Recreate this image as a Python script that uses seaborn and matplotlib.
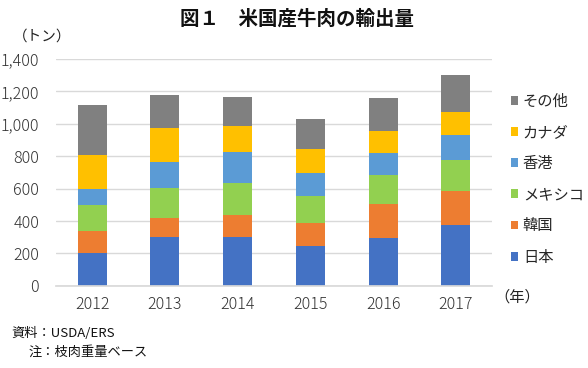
import numpy as np
import pandas as pd
import matplotlib
matplotlib.use("Agg")
import matplotlib.pyplot as plt
import seaborn as sns
from matplotlib.patches import Patch

years = ["2012", "2013", "2014", "2015", "2016", "2017"]
japan = [202, 304, 303, 247, 296, 377]
korea = [138, 116, 135, 142, 210, 209]
mexico = [160, 185, 198, 167, 179, 192]
hongkong = [99, 160, 191, 140, 134, 152]
canada = [210, 210, 161, 150, 138, 144]
other = [308, 204, 179, 185, 203, 228]

series_names = ["日本", "韓国", "メキシコ", "香港", "カナダ", "その他"]
series_vals = [japan, korea, mexico, hongkong, canada, other]
colors = ["#4472C4", "#ED7D31", "#92D050", "#5B9BD5", "#FFC000", "#808080"]

sns.set_theme(style="white")
plt.rcParams["font.family"] = ["Noto Sans CJK JP", "DejaVu Sans"]

fig = plt.figure(figsize=(5.88, 3.68), dpi=100)
ax = fig.add_axes([0.095, 0.223, 0.742, 0.617])

cum = np.cumsum(np.array(series_vals), axis=0)
# draw from the tallest cumulative downward so lower segments overlay
for i in range(len(series_names) - 1, -1, -1):
    df = pd.DataFrame({"year": years, "value": cum[i]})
    sns.barplot(data=df, x="year", y="value", color=colors[i], width=0.4,
                saturation=1, ax=ax, zorder=3, linewidth=0)

ax.set_ylim(0, 1400)
ax.set_yticks(range(0, 1401, 200))
ax.set_yticklabels([f"{v:,}" for v in range(0, 1401, 200)])
ax.grid(axis="y", color="#D9D9D9", linewidth=1, zorder=0)
ax.grid(axis="x", visible=False)
for s in ["top", "right", "left"]:
    ax.spines[s].set_visible(False)
ax.spines["bottom"].set_color("#D9D9D9")
ax.spines["bottom"].set_zorder(4)
ax.tick_params(axis="both", length=0, labelsize=11.5, colors="#333333")
ax.tick_params(axis="y", pad=12)
ax.tick_params(axis="x", pad=7)
for lab in ax.get_xticklabels() + ax.get_yticklabels():
    lab.set_fontweight("light")
ax.set_xlabel("")
ax.set_ylabel("")

fig.text(0.505, 0.948, "図１　米国産牛肉の輸出量", ha="center", va="center",
         fontsize=14, fontweight="bold", color="#111111")
fig.text(0.022, 0.9, "（トン）", ha="left", va="center", fontsize=10.5, color="#222222")
fig.text(0.84, 0.194, "（年）", ha="left", va="center", fontsize=11, color="#222222")
fig.text(0.02, 0.095, "資料：USDA/ERS", ha="left", va="center", fontsize=9.5, color="#111111")
fig.text(0.048, 0.043, "注：枝肉重量ベース", ha="left", va="center", fontsize=9.5, color="#111111")

handles = [Patch(facecolor=colors[i], edgecolor="none", label=series_names[i])
           for i in range(len(series_names) - 1, -1, -1)]
fig.legend(handles=handles, loc="upper left", bbox_to_anchor=(0.858, 0.765),
           frameon=False, fontsize=11, handlelength=0.5, handleheight=0.5,
           handletextpad=0.3, labelspacing=0.93, borderaxespad=0)

fig.savefig("out.png", dpi=100)
